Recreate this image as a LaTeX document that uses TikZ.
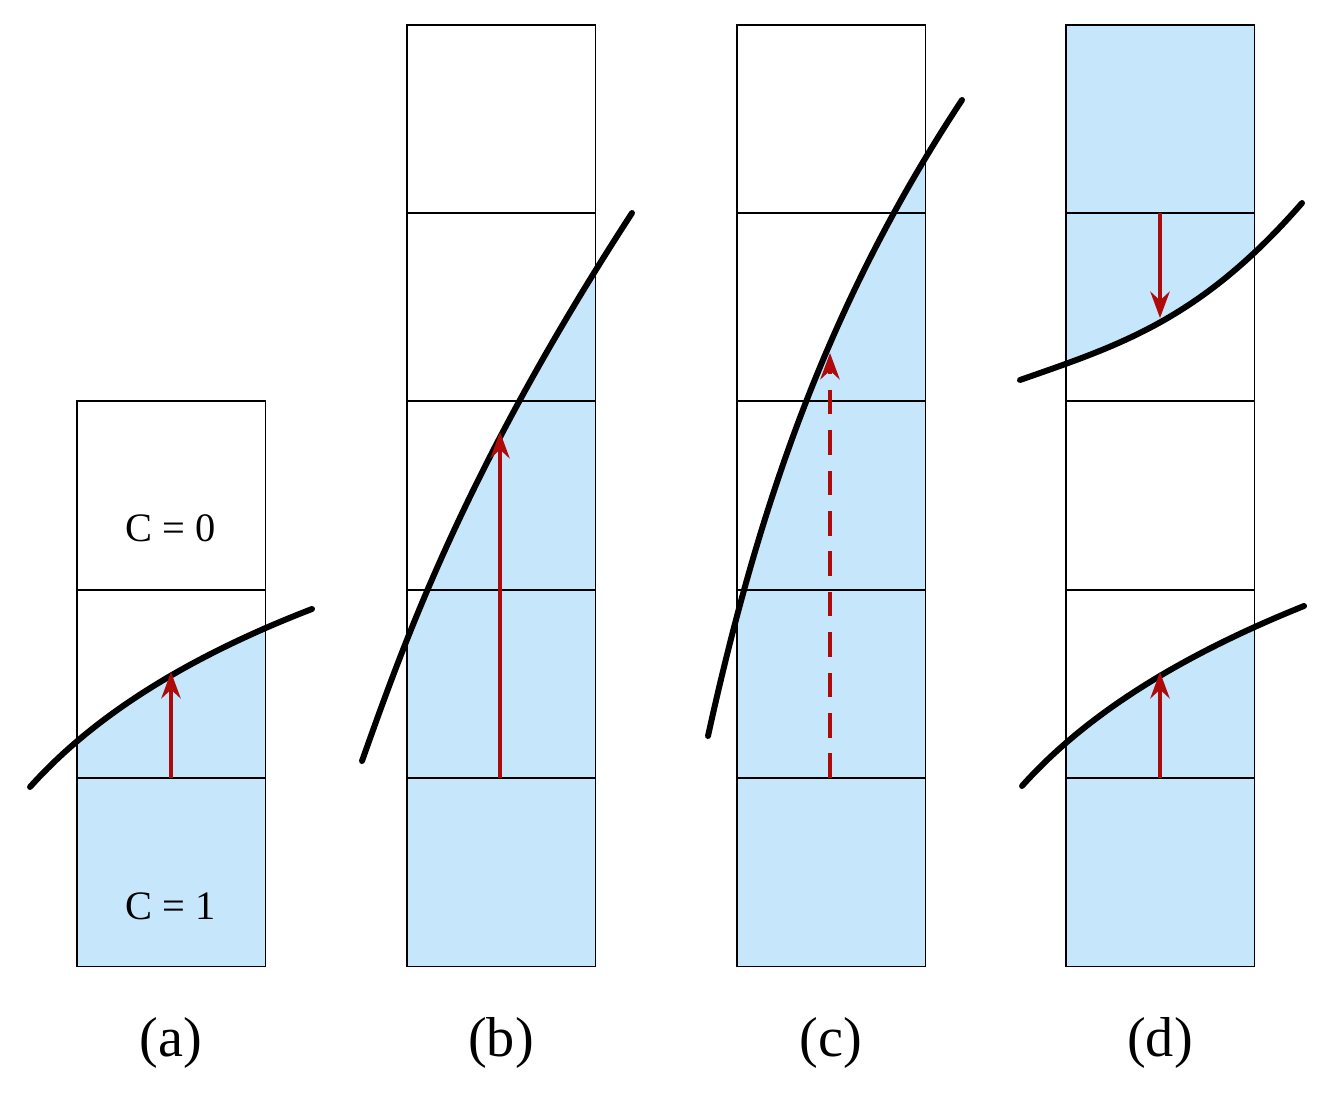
\documentclass[tikz,border=0pt]{standalone}
\usepackage{fontspec}
\setmainfont{Liberation Serif}
\usetikzlibrary{arrows.meta}
\definecolor{cellblue}{RGB}{197,230,251}
\definecolor{arrowred}{RGB}{175,10,10}
\tikzset{
  cell/.style={draw=black, line width=0.6pt},
  front/.style={line width=3.4pt, line cap=round},
  push/.style={draw=arrowred, line width=2.3pt, -{Stealth[length=15pt,width=11pt,inset=5pt]}},
  caption/.style={font=\fontsize{32}{36}\selectfont},
  celltext/.style={font=\fontsize{23}{26}\selectfont}
}
\begin{document}
\begin{tikzpicture}[x=0.02cm,y=-0.02cm]
  \useasboundingbox (0,0) rectangle (1342,1101);
  % fills
  \fill[cellblue] (77,778) rectangle (265,967);
  \begin{scope}
    \clip (77,401) rectangle (265,967);
    \fill[cellblue] (30,787) .. controls (90,720) and (180,660) .. (312,609) -- (312,967) -- (30,967) -- cycle;
  \end{scope}
  \begin{scope}
    \clip (407,25) rectangle (595,967);
    \fill[cellblue] (362,761) .. controls (405,640) and (465,470) .. (632,213) -- (632,967) -- (362,967) -- cycle;
  \end{scope}
  \begin{scope}
    \clip (737,25) rectangle (925,967);
    \fill[cellblue] (708,736) .. controls (760,500) and (830,300) .. (962,100) -- (962,967) -- (708,967) -- cycle;
  \end{scope}
  \fill[cellblue] (1066,778) rectangle (1255,967);
  \fill[cellblue] (1066,25) rectangle (1255,213);
  \begin{scope}
    \clip (1066,25) rectangle (1255,967);
    \fill[cellblue] (1020,380) .. controls (1120,345) and (1200,320) .. (1302,203) -- (1302,25) -- (1020,25) -- cycle;
    \fill[cellblue] (1022,786) .. controls (1082,719) and (1172,659) .. (1304,606) -- (1304,967) -- (1022,967) -- cycle;
  \end{scope}
  % cells
  \foreach \y in {401,590,778}
    \draw[cell] (77,\y) rectangle ++(188.5,188.5);
  \foreach \x in {407,737,1066}
    \foreach \y in {25,213,401,590,778}
      \draw[cell] (\x,\y) rectangle ++(188.5,188.5);
  % fronts
  \draw[front] (30,787) .. controls (90,720) and (180,660) .. (312,609);
  \draw[front] (362,761) .. controls (405,640) and (465,470) .. (632,213);
  \draw[front] (708,736) .. controls (760,500) and (830,300) .. (962,100);
  \draw[front] (1020,380) .. controls (1120,345) and (1200,320) .. (1302,203);
  \draw[front] (1022,786) .. controls (1082,719) and (1172,659) .. (1304,606);
  % arrows
  \coordinate (a0) at (171,778); \coordinate (a1) at (171,672);
  \coordinate (b0) at (500,778); \coordinate (b1) at (500,432);
  \coordinate (c0) at (830,778); \coordinate (c1) at (830,353);
  \coordinate (d0) at (1160,213); \coordinate (d1) at (1160,318);
  \coordinate (e0) at (1160,778); \coordinate (e1) at (1160,672);
  \draw[push] (a0) -- (a1);
  \draw[push] (b0) -- (b1);
  \draw[push, dash pattern=on 14pt off 9pt] (c0) -- (c1);
  \draw[push] (d0) -- (d1);
  \draw[push] (e0) -- (e1);
  % labels
  \node (empty) [celltext] at (171,528) {C = 0};
  \node (full) [celltext] at (171,906) {C = 1};
  \node (capa) [caption] at (171,1043) {(a)};
  \node (capb) [caption] at (501,1043) {(b)};
  \node (capc) [caption] at (831,1043) {(c)};
  \node (capd) [caption] at (1160,1043) {(d)};
\end{tikzpicture}
\end{document}
